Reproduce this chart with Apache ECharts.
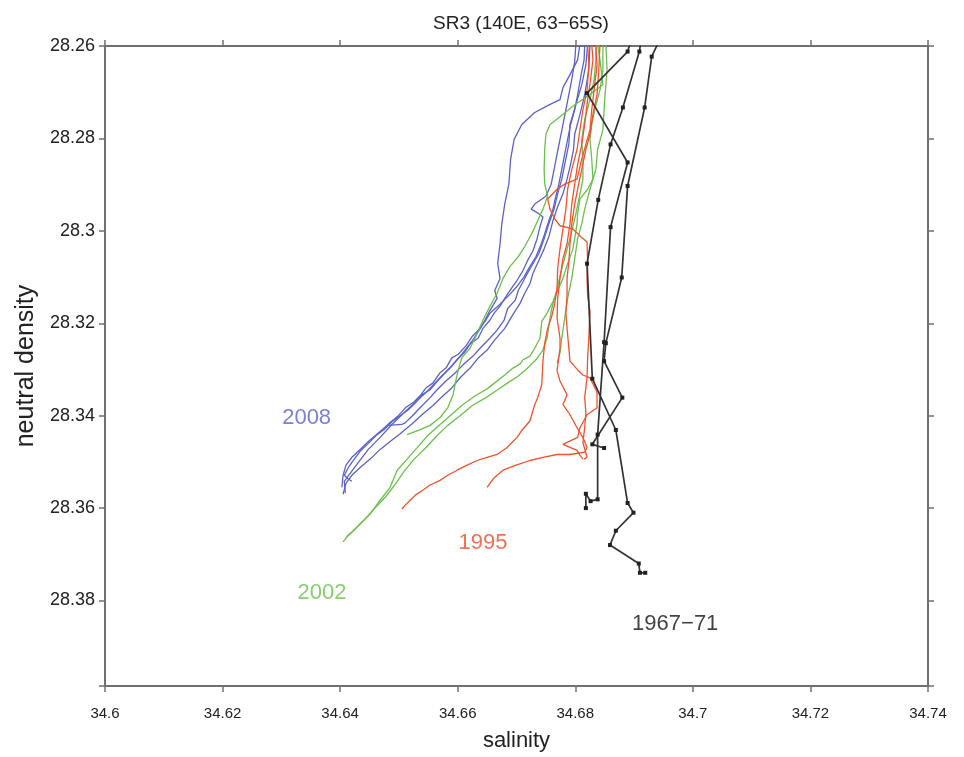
<!DOCTYPE html>
<html><head><meta charset="utf-8">
<script src="https://cdn.jsdelivr.net/npm/echarts@6/dist/echarts.min.js"></script>
<style>html,body{margin:0;padding:0;background:#fff}#c{width:964px;height:757px}</style>
</head><body><div id="c"></div>
<script>
// ---- axis settings (values) ----
const salMin = 34.6, salMax = 34.74, salStep = 0.02;
const denMin = 28.26, denMax = 28.3985, denStep = 0.02;

// ---- 2008 profiles [salinity, neutral density] ----
const p2008a = [[34.6808,28.2596],[34.6804,28.2630],[34.6791,28.2662],[34.6779,28.2690],[34.6774,28.2716],[34.6753,28.2729],[34.6731,28.2744],[34.6709,28.2770],[34.6696,28.2802],[34.6690,28.2845],[34.6687,28.2899],[34.6680,28.2942],[34.6675,28.2985],[34.6672,28.3028],[34.6668,28.3071],[34.6672,28.3103],[34.6663,28.3129],[34.6667,28.3146],[34.6655,28.3172],[34.6641,28.3206],[34.6626,28.3236],[34.6607,28.3267],[34.6590,28.3292],[34.6570,28.3318],[34.6549,28.3346],[34.6529,28.3370],[34.6509,28.3393],[34.6488,28.3419],[34.6468,28.3447],[34.6448,28.3473],[34.6431,28.3501],[34.6417,28.3525],[34.6407,28.3542],[34.6409,28.3568]];
const p2008b = [[34.6816,28.2596],[34.6815,28.2630],[34.6810,28.2662],[34.6804,28.2705],[34.6799,28.2738],[34.6792,28.2770],[34.6787,28.2802],[34.6782,28.2834],[34.6777,28.2867],[34.6772,28.2899],[34.6767,28.2925],[34.6762,28.2953],[34.6755,28.2978],[34.6748,28.3006],[34.6741,28.3032],[34.6733,28.3056],[34.6723,28.3077],[34.6713,28.3099],[34.6701,28.3120],[34.6689,28.3137],[34.6679,28.3150],[34.6667,28.3165],[34.6655,28.3178],[34.6648,28.3193],[34.6635,28.3215],[34.6625,28.3228],[34.6614,28.3249],[34.6601,28.3267],[34.6590,28.3275],[34.6580,28.3297],[34.6570,28.3307],[34.6558,28.3329],[34.6546,28.3340],[34.6536,28.3357],[34.6526,28.3370],[34.6511,28.3383],[34.6499,28.3400],[34.6485,28.3415],[34.6470,28.3432],[34.6456,28.3447],[34.6448,28.3456],[34.6434,28.3473],[34.6420,28.3490],[34.6410,28.3507],[34.6405,28.3529],[34.6403,28.3555]];
const p2008c = [[34.6821,28.2596],[34.6818,28.2641],[34.6811,28.2684],[34.6801,28.2727],[34.6791,28.2770],[34.6789,28.2813],[34.6782,28.2856],[34.6777,28.2888],[34.6770,28.2920],[34.6764,28.2953],[34.6755,28.2985],[34.6747,28.3017],[34.6738,28.3049],[34.6723,28.3082],[34.6714,28.3103],[34.6703,28.3129],[34.6698,28.3150],[34.6685,28.3168],[34.6679,28.3193],[34.6667,28.3215],[34.6655,28.3232],[34.6638,28.3254],[34.6626,28.3271],[34.6609,28.3290],[34.6596,28.3307],[34.6580,28.3325],[34.6565,28.3344],[34.6553,28.3361],[34.6536,28.3383],[34.6523,28.3400],[34.6511,28.3415],[34.6505,28.3419],[34.6482,28.3421]];
const p2008d = [[34.6825,28.2596],[34.6823,28.2652],[34.6816,28.2705],[34.6808,28.2748],[34.6799,28.2791],[34.6797,28.2824],[34.6792,28.2856],[34.6786,28.2888],[34.6779,28.2920],[34.6770,28.2948],[34.6762,28.2978],[34.6755,28.3013],[34.6747,28.3039],[34.6738,28.3064],[34.6728,28.3092],[34.6723,28.3114],[34.6714,28.3135],[34.6706,28.3157],[34.6692,28.3185],[34.6680,28.3211],[34.6663,28.3236],[34.6650,28.3258],[34.6635,28.3275],[34.6621,28.3297],[34.6604,28.3318],[34.6590,28.3340],[34.6575,28.3357],[34.6558,28.3378],[34.6541,28.3396],[34.6523,28.3417],[34.6502,28.3439],[34.6485,28.3456],[34.6468,28.3473],[34.6451,28.3494],[34.6434,28.3512],[34.6420,28.3529],[34.6410,28.3546],[34.6405,28.3570]];
const p2008e = [[34.6801,28.2596],[34.6799,28.2634],[34.6794,28.2673],[34.6789,28.2705],[34.6784,28.2738],[34.6779,28.2770],[34.6774,28.2802],[34.6769,28.2834],[34.6764,28.2867],[34.6759,28.2899],[34.6750,28.2925],[34.6731,28.2942],[34.6725,28.2953],[34.6736,28.2961],[34.6745,28.2970],[34.6740,28.2991],[34.6735,28.3017],[34.6728,28.3043],[34.6719,28.3064],[34.6711,28.3086],[34.6701,28.3107],[34.6689,28.3129],[34.6680,28.3146],[34.6672,28.3163],[34.6662,28.3178],[34.6655,28.3193],[34.6643,28.3211],[34.6635,28.3232],[34.6621,28.3245],[34.6611,28.3264],[34.6599,28.3279],[34.6587,28.3297],[34.6575,28.3312],[34.6563,28.3329],[34.6553,28.3344],[34.6539,28.3355],[34.6528,28.3372],[34.6516,28.3387],[34.6502,28.3400],[34.6488,28.3413],[34.6475,28.3430],[34.6461,28.3443],[34.6448,28.3460],[34.6434,28.3477],[34.6424,28.3494],[34.6414,28.3512],[34.6407,28.3529],[34.6414,28.3537],[34.6420,28.3542]];

// ---- 2002 profiles ----
const p2002a = [[34.6838,28.2596],[34.6842,28.2630],[34.6847,28.2684],[34.6825,28.2705],[34.6799,28.2727],[34.6774,28.2753],[34.6757,28.2770],[34.6750,28.2791],[34.6748,28.2824],[34.6747,28.2867],[34.6748,28.2899],[34.6753,28.2925],[34.6745,28.2953],[34.6736,28.2978],[34.6726,28.3006],[34.6714,28.3034],[34.6703,28.3056],[34.6689,28.3077],[34.6677,28.3103],[34.6667,28.3135],[34.6655,28.3163],[34.6643,28.3193],[34.6631,28.3228],[34.6621,28.3254],[34.6607,28.3275],[34.6601,28.3301],[34.6596,28.3329],[34.6592,28.3355],[34.6583,28.3383],[34.6570,28.3404],[34.6553,28.3421],[34.6533,28.3432],[34.6514,28.3441]];
const p2002b = [[34.6847,28.2596],[34.6847,28.2652],[34.6842,28.2695],[34.6833,28.2738],[34.6828,28.2770],[34.6825,28.2802],[34.6828,28.2845],[34.6830,28.2888],[34.6821,28.2910],[34.6808,28.2931],[34.6804,28.2963],[34.6803,28.2985],[34.6799,28.3017],[34.6796,28.3039],[34.6787,28.3071],[34.6779,28.3103],[34.6770,28.3129],[34.6762,28.3153],[34.6752,28.3178],[34.6743,28.3196],[34.6740,28.3232],[34.6731,28.3254],[34.6723,28.3271],[34.6711,28.3279],[34.6706,28.3288],[34.6694,28.3297],[34.6680,28.3312],[34.6663,28.3329],[34.6650,28.3342],[34.6630,28.3357],[34.6609,28.3376],[34.6587,28.3400],[34.6570,28.3419],[34.6549,28.3443],[34.6531,28.3469],[34.6514,28.3494],[34.6497,28.3518],[34.6485,28.3555],[34.6468,28.3583],[34.6451,28.3613],[34.6434,28.3634],[34.6417,28.3656],[34.6410,28.3664]];
const p2002c = [[34.6835,28.2596],[34.6835,28.2630],[34.6832,28.2673],[34.6825,28.2716],[34.6816,28.2759],[34.6811,28.2802],[34.6813,28.2845],[34.6813,28.2888],[34.6808,28.2920],[34.6801,28.2963],[34.6791,28.3017],[34.6784,28.3049],[34.6777,28.3082],[34.6769,28.3125],[34.6760,28.3168],[34.6757,28.3189],[34.6752,28.3232],[34.6745,28.3258],[34.6733,28.3279],[34.6719,28.3297],[34.6703,28.3314],[34.6685,28.3329],[34.6668,28.3344],[34.6648,28.3361],[34.6625,28.3378],[34.6604,28.3400],[34.6583,28.3421],[34.6565,28.3443],[34.6546,28.3469],[34.6526,28.3494],[34.6509,28.3520],[34.6494,28.3548],[34.6477,28.3576],[34.6456,28.3604],[34.6441,28.3626],[34.6426,28.3645],[34.6414,28.3658],[34.6405,28.3673]];
const p2002d = [[34.6852,28.2596],[34.6854,28.2652],[34.6850,28.2716],[34.6847,28.2781],[34.6838,28.2824],[34.6835,28.2867],[34.6825,28.2910],[34.6816,28.2953],[34.6811,28.2985],[34.6804,28.3017],[34.6799,28.3060],[34.6794,28.3103],[34.6787,28.3146],[34.6782,28.3189],[34.6777,28.3232],[34.6774,28.3264],[34.6769,28.3286]];

// ---- 1995 profiles ----
const p1995a = [[34.6821,28.2596],[34.6823,28.2641],[34.6820,28.2695],[34.6813,28.2738],[34.6808,28.2781],[34.6803,28.2824],[34.6794,28.2867],[34.6787,28.2910],[34.6784,28.2953],[34.6779,28.2996],[34.6774,28.3039],[34.6770,28.3082],[34.6769,28.3125],[34.6765,28.3157],[34.6760,28.3185],[34.6753,28.3211],[34.6748,28.3243],[34.6745,28.3282],[34.6743,28.3333],[34.6736,28.3361],[34.6731,28.3376],[34.6723,28.3411],[34.6709,28.3432],[34.6701,28.3447],[34.6684,28.3469],[34.6667,28.3484],[34.6650,28.3490],[34.6633,28.3497],[34.6616,28.3507],[34.6599,28.3518],[34.6583,28.3529],[34.6570,28.3540],[34.6553,28.3550],[34.6541,28.3561],[34.6528,28.3572],[34.6519,28.3583],[34.6511,28.3593],[34.6505,28.3602]];
const p1995b = [[34.6828,28.2596],[34.6830,28.2630],[34.6826,28.2673],[34.6821,28.2716],[34.6816,28.2770],[34.6811,28.2813],[34.6804,28.2856],[34.6799,28.2899],[34.6794,28.2942],[34.6791,28.2985],[34.6786,28.3028],[34.6779,28.3060],[34.6774,28.3103],[34.6770,28.3146],[34.6769,28.3189],[34.6774,28.3232],[34.6774,28.3254],[34.6769,28.3303],[34.6774,28.3325],[34.6786,28.3355],[34.6779,28.3376],[34.6791,28.3398],[34.6803,28.3426],[34.6813,28.3447],[34.6820,28.3469],[34.6816,28.3479],[34.6791,28.3484],[34.6769,28.3484],[34.6745,28.3490],[34.6723,28.3497],[34.6699,28.3507],[34.6677,28.3518],[34.6663,28.3533],[34.6655,28.3546],[34.6650,28.3555]];
const p1995c = [[34.6835,28.2596],[34.6837,28.2641],[34.6832,28.2695],[34.6828,28.2738],[34.6825,28.2781],[34.6818,28.2813],[34.6811,28.2845],[34.6803,28.2888],[34.6782,28.2899],[34.6769,28.2910],[34.6753,28.2931],[34.6757,28.2953],[34.6765,28.2974],[34.6774,28.2989],[34.6796,28.2996],[34.6808,28.3011],[34.6820,28.3024],[34.6821,28.3067],[34.6820,28.3103],[34.6821,28.3140],[34.6825,28.3174],[34.6823,28.3232],[34.6821,28.3275],[34.6820,28.3318],[34.6816,28.3361],[34.6818,28.3393],[34.6816,28.3426],[34.6813,28.3458],[34.6820,28.3490],[34.6815,28.3494]];
const p1995d = [[34.6842,28.2596],[34.6840,28.2652],[34.6837,28.2705],[34.6830,28.2748],[34.6825,28.2791],[34.6818,28.2824],[34.6811,28.2867],[34.6804,28.2910],[34.6799,28.2942],[34.6794,28.2985],[34.6791,28.3028],[34.6789,28.3067],[34.6786,28.3103],[34.6786,28.3140],[34.6784,28.3178],[34.6786,28.3211],[34.6791,28.3282],[34.6804,28.3301],[34.6813,28.3312],[34.6825,28.3318],[34.6837,28.3350],[34.6837,28.3383],[34.6820,28.3398],[34.6808,28.3426],[34.6804,28.3447],[34.6779,28.3462],[34.6803,28.3475],[34.6808,28.3486],[34.6813,28.3494]];

// ---- 1967-71 bottle stations ----
const p1967a = [[34.6893,28.2596],[34.6889,28.2612],[34.6820,28.2702],[34.6889,28.2852],[34.6860,28.2992],[34.6849,28.3241],[34.6838,28.3441],[34.6838,28.3581],[34.6826,28.3585],[34.6818,28.3569],[34.6818,28.3600]];
const p1967b = [[34.6911,28.2596],[34.6909,28.2612],[34.6881,28.2733],[34.6860,28.2813],[34.6839,28.2933],[34.6820,28.3071],[34.6829,28.3320],[34.6869,28.3431],[34.6889,28.3589],[34.6899,28.3610],[34.6869,28.3649],[34.6859,28.3680],[34.6908,28.3720],[34.6910,28.3740],[34.6919,28.3740]];
const p1967c = [[34.6940,28.2596],[34.6930,28.2623],[34.6918,28.2733],[34.6889,28.2903],[34.6879,28.3101],[34.6852,28.3243],[34.6849,28.3282],[34.6880,28.3361],[34.6829,28.3462],[34.6849,28.3470]];

// ---- annotation texts ----
const labelText = ['2008', '2002', '1995', '1967\u221271'];
const labelSal  = [34.6343, 34.6369, 34.6643, 34.6970];
const labelDen  = [28.3404, 28.3783, 28.3675, 28.3851];

const FONT = "'Liberation Sans', Arial, Helvetica, sans-serif";
const cBlue = '#5a62c6', cGreen = '#6cbf4c', cRed = '#f0522c', cBlack = '#222222';
const labelColors = ['#5a62c6', '#6cc04a', '#ee4c2a', '#111111'];

function lineSeries(data, color, width) {
  return { type: 'line', data: data, xAxisIndex: 0, yAxisIndex: 0, showSymbol: false, symbol: 'none',
    lineStyle: { color: color, width: width }, silent: true, animation: false, clip: true, z: 3 };
}
function stationSeries(data) {
  return { type: 'line', data: data, xAxisIndex: 0, yAxisIndex: 0, symbol: 'rect', symbolSize: 4, showSymbol: true,
    itemStyle: { color: cBlack }, lineStyle: { color: '#333', width: 1.7 }, silent: true, animation: false, clip: true, z: 4 };
}

const series = [];
[p2008a, p2008b, p2008c, p2008d, p2008e].forEach(p => series.push(lineSeries(p, cBlue, 1.3)));
[p2002a, p2002b, p2002c, p2002d].forEach(p => series.push(lineSeries(p, cGreen, 1.3)));
[p1995a, p1995b, p1995c, p1995d].forEach(p => series.push(lineSeries(p, cRed, 1.3)));
[p1967a, p1967b, p1967c].forEach(p => series.push(stationSeries(p)));
series.push({
  type: 'scatter', symbolSize: 0, silent: true, animation: false, z: 5,
  data: labelText.map((t, i) => ({ value: [labelSal[i], labelDen[i]], name: t,
    label: { show: true, position: 'inside', formatter: t, color: labelColors[i], fontSize: 22, fontFamily: FONT } }))
});

const axisLineStyle = { color: '#707070', width: 2 };
const tickStyle = { color: '#707070', width: 1.5 };

const option = {
  backgroundColor: '#ffffff',
  animation: false,
  title: { text: 'SR3 (140E, 63\u221265S)', left: 516, top: 9, textAlign: 'center',
    textStyle: { fontFamily: FONT, fontSize: 19, fontWeight: 'normal', color: '#222' } },
  grid: { left: 105, right: 36, top: 46, bottom: 56, containLabel: false },
  xAxis: [
    { type: 'value', position: 'bottom', min: salMin, max: salMax, interval: salStep,
      axisLine: { show: true, lineStyle: axisLineStyle, onZero: false },
      axisTick: { show: true, inside: false, length: 6, lineStyle: tickStyle },
      axisLabel: { show: true, margin: 20, color: '#222', fontSize: 15, fontFamily: FONT },
      splitLine: { show: false },
      name: 'salinity', nameLocation: 'middle', nameGap: 44,
      nameTextStyle: { fontFamily: FONT, fontSize: 22, color: '#222' } },
    { type: 'value', position: 'top', min: salMin, max: salMax, interval: salStep,
      axisLine: { show: true, lineStyle: axisLineStyle, onZero: false },
      axisTick: { show: true, inside: false, length: 6, lineStyle: tickStyle },
      axisLabel: { show: false }, splitLine: { show: false } }
  ],
  yAxis: [
    { type: 'value', position: 'left', inverse: true, min: denMin, max: denMax, interval: denStep,
      axisLine: { show: true, lineStyle: axisLineStyle, onZero: false },
      axisTick: { show: true, inside: false, length: 6, lineStyle: tickStyle },
      axisLabel: { show: true, margin: 10, color: '#222', fontSize: 18, fontFamily: FONT,
        formatter: v => (v > 28.39 ? '' : String(Math.round(v * 100) / 100)) },
      splitLine: { show: false },
      name: 'neutral density', nameLocation: 'middle', nameGap: 66, nameRotate: 90,
      nameTextStyle: { fontFamily: FONT, fontSize: 25, color: '#222' } },
    { type: 'value', position: 'right', inverse: true, min: denMin, max: denMax, interval: denStep,
      axisLine: { show: true, lineStyle: axisLineStyle, onZero: false },
      axisTick: { show: true, inside: false, length: 6, lineStyle: tickStyle },
      axisLabel: { show: false }, splitLine: { show: false } }
  ],
  series: series
};

const chart = echarts.init(document.getElementById('c'), null, { renderer: 'canvas' });
chart.setOption(option);
</script></body></html>
